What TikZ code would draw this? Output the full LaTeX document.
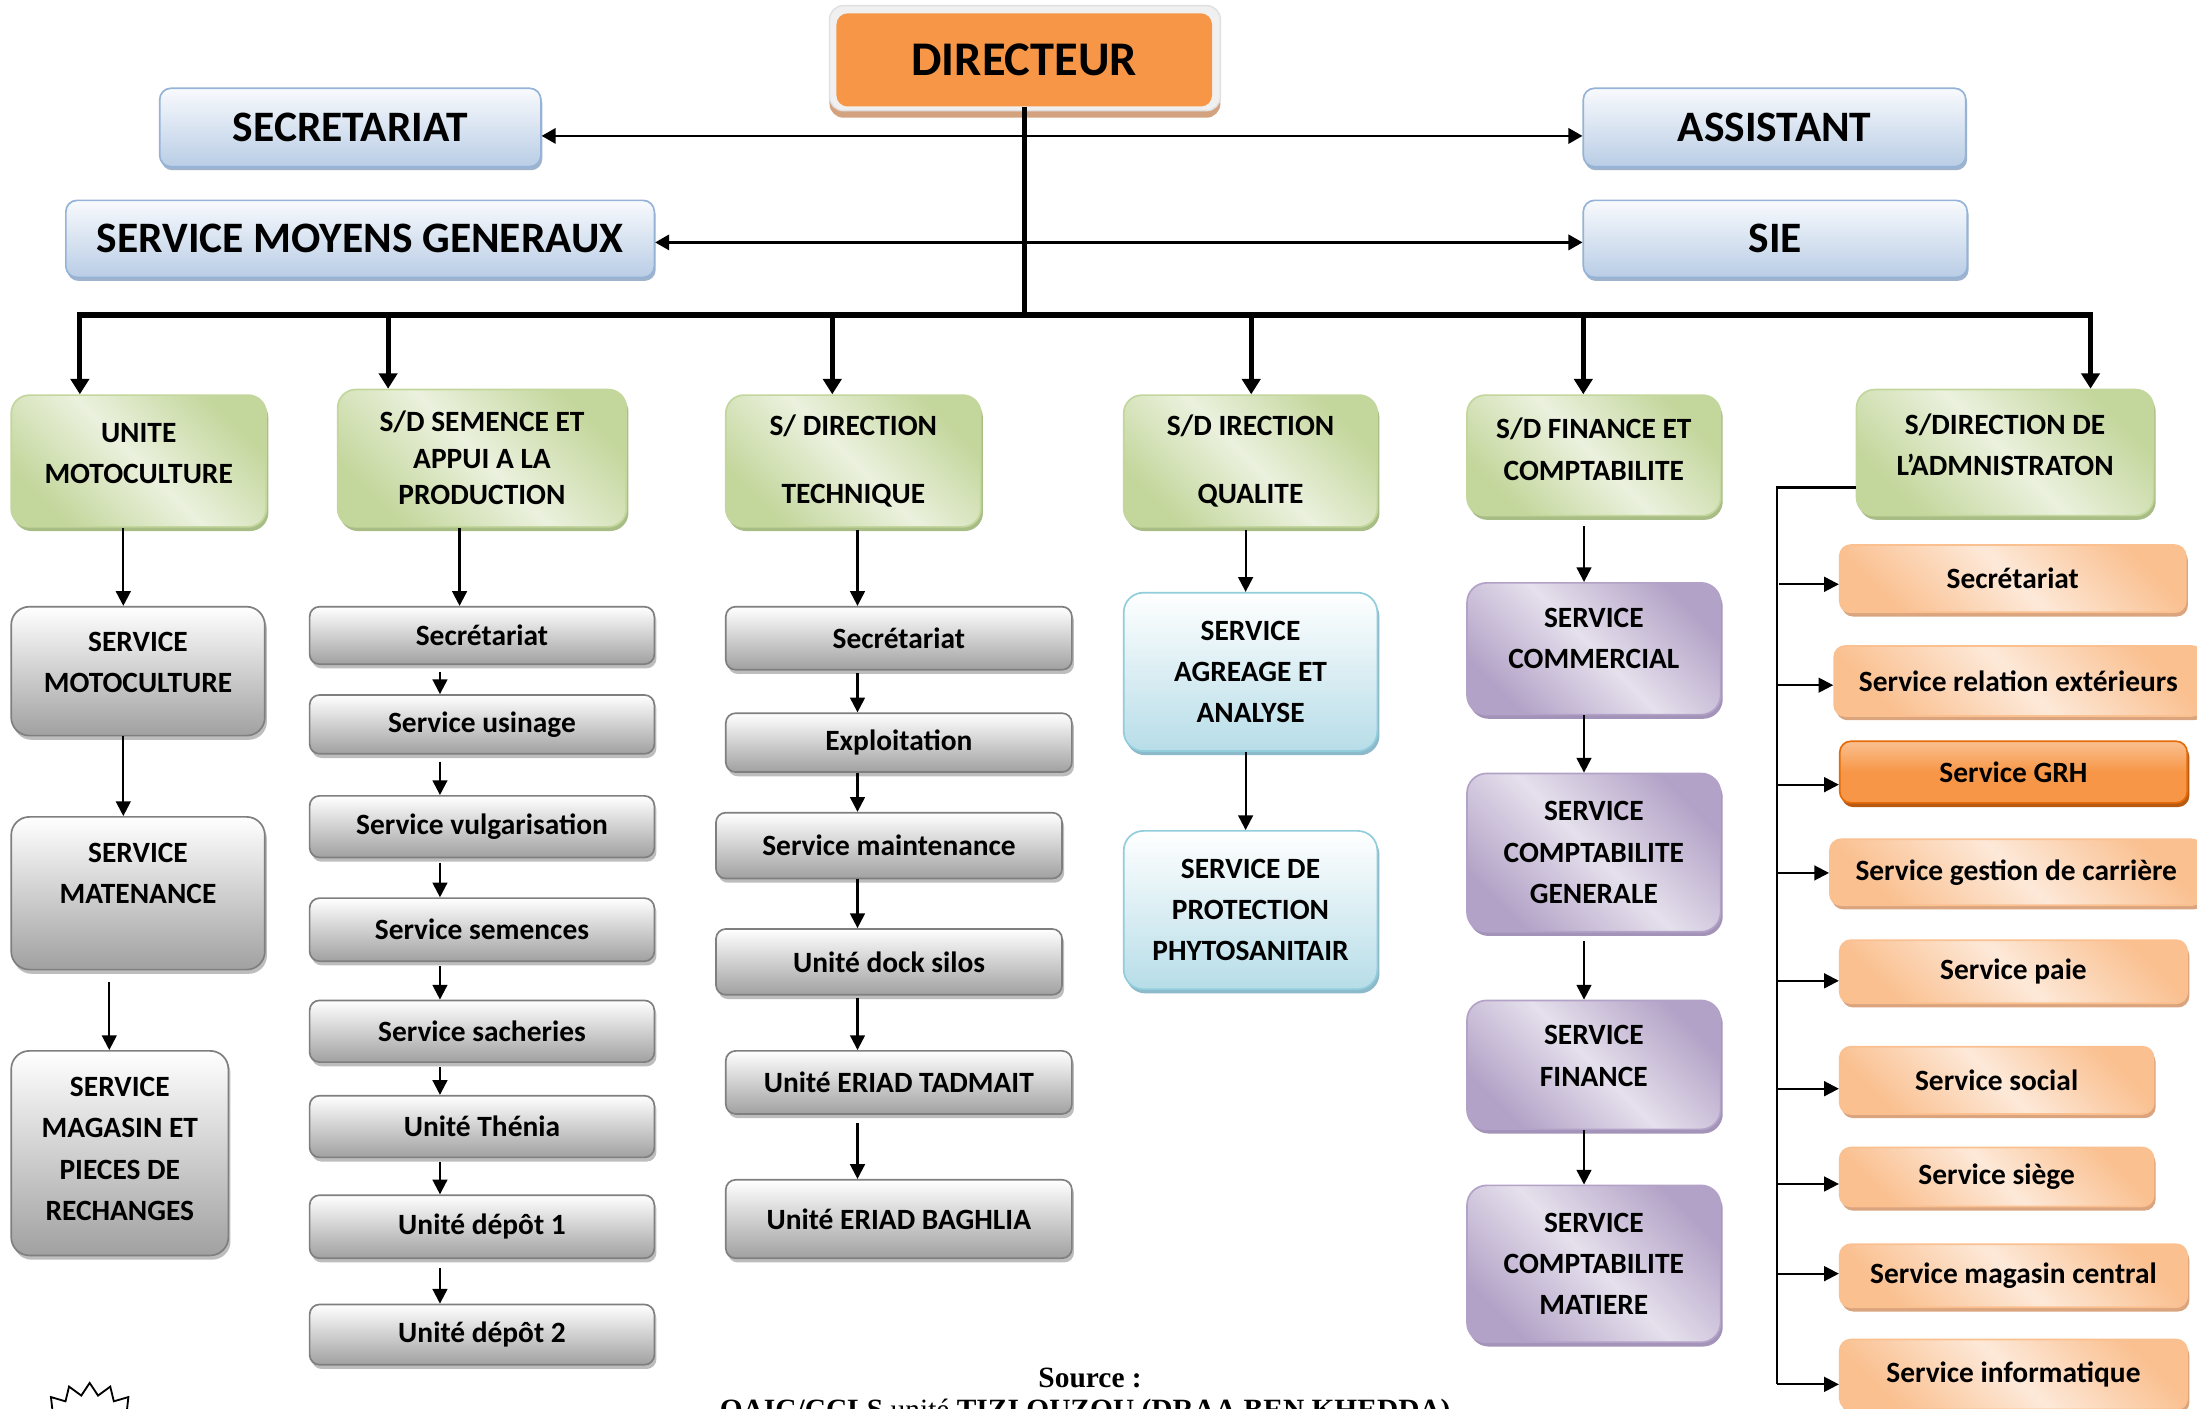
\documentclass[tikz,border=0pt]{standalone}
\usepackage{fontspec}
\setmainfont{Carlito}
\newfontfamily\srcfont{Liberation Serif}
\usetikzlibrary{arrows.meta,shadows}
\definecolor{orng}{HTML}{F79646}
\definecolor{toptop}{HTML}{F8FAFD}
\definecolor{topbot}{HTML}{B9CDE5}
\definecolor{topbd}{HTML}{95B3D7}
\definecolor{topsh}{HTML}{9FB3CC}
\definecolor{grlt}{HTML}{EBF1DE}
\definecolor{grdk}{HTML}{C3D69B}
\definecolor{grbd}{HTML}{C3D69B}
\definecolor{grsh}{HTML}{A8BC86}
\definecolor{gybd}{HTML}{7F7F7F}
\definecolor{gysh}{HTML}{BDBDBD}
\definecolor{blbot}{HTML}{B7DDE8}
\definecolor{blbd}{HTML}{92CDDC}
\definecolor{blsh}{HTML}{8DBACB}
\definecolor{pult}{HTML}{E5E0EC}
\definecolor{pudk}{HTML}{B3A2C7}
\definecolor{push}{HTML}{A393B8}
\definecolor{orlt}{HTML}{FDE9D9}
\definecolor{ordk}{HTML}{FAC090}
\definecolor{orsh}{HTML}{D9A47E}
\definecolor{grhbd}{HTML}{E46C0A}
\definecolor{grhsh}{HTML}{B85A12}
\definecolor{dirsh}{HTML}{D3A27F}
\begin{document}
\begin{tikzpicture}[x=1pt,y=-1pt,
  box/.style={rectangle, align=center, inner sep=2pt, line width=1.2pt,
    font=\bfseries\fontsize{21}{29.5}\selectfont},
  sz/.style 2 args={minimum width=#1pt, minimum height=#2pt},
  lift/.style={text depth=#1},
  topbox/.style={box, rounded corners=8pt, draw=topbd, top color=toptop, bottom color=topbot,
    font=\bfseries\fontsize{31}{35}\selectfont,
    drop shadow={shadow xshift=1pt, shadow yshift=-2.5pt, fill=topsh, opacity=1}},
  greenbox/.style={box, rounded corners=13pt, draw=grbd, top color=grdk, bottom color=grdk,
    middle color=grlt, shading angle=-45,
    drop shadow={shadow xshift=1.5pt, shadow yshift=-3pt, fill=grsh, opacity=1}},
  greybig/.style={box, rounded corners=13pt, draw=gybd, top color=white, bottom color=black!37,
    drop shadow={shadow xshift=1.5pt, shadow yshift=-3pt, fill=gysh, opacity=1}},
  greybox/.style={box, rounded corners=7pt, draw=gybd, top color=white, bottom color=black!37,
    drop shadow={shadow xshift=1.5pt, shadow yshift=-3pt, fill=gysh, opacity=1}},
  bluebox/.style={box, rounded corners=14pt, draw=blbd, top color=white, bottom color=blbot,
    drop shadow={shadow xshift=1.5pt, shadow yshift=-3pt, fill=blsh, opacity=1}},
  purplebox/.style={box, rounded corners=14pt, draw=pudk, top color=pudk, bottom color=pudk,
    middle color=pult, shading angle=-45,
    drop shadow={shadow xshift=1.5pt, shadow yshift=-3pt, fill=push, opacity=1}},
  orbox/.style={box, rounded corners=8pt, draw=ordk, top color=ordk, bottom color=ordk,
    middle color=orlt, shading angle=-45,
    drop shadow={shadow xshift=1.5pt, shadow yshift=-3pt, fill=orsh, opacity=1}},
  grhbox/.style={box, rounded corners=8pt, draw=grhbd, top color=ordk, bottom color=orng,
    middle color=orng,
    drop shadow={shadow xshift=1.5pt, shadow yshift=-3pt, fill=grhsh, opacity=1}},
  conn/.style={line width=1.6pt, -{Triangle[width=10.5pt,length=10.5pt]}},
  both/.style={line width=1.6pt, {Triangle[width=11pt,length=10pt]}-{Triangle[width=11pt,length=10pt]}},
  drop/.style={line width=3.5pt, -{Triangle[width=13pt,length=11pt]}},
  plain/.style={line width=1.6pt}
]
\useasboundingbox (0,0) rectangle (1568,1005);
\fill[white] (0,0) rectangle (1568,1005);
\clip (0,0) rectangle (1568,1005);

% Director
\node[rectangle, rounded corners=10pt, fill=black!6, draw=black!12, line width=1pt, sz={279}{75},
  drop shadow={shadow xshift=0pt, shadow yshift=-5pt, fill=dirsh, opacity=1}] (dirframe) at (731.5,41.5) {};
\node[rectangle, rounded corners=8pt, fill=orng, sz={268}{66.5},
  font=\bfseries\fontsize{34.5}{38}\selectfont] (dir) at (731,42.75) {DIRECTEUR};

% top boxes
\node[topbox, sz={272}{56}] (secr) at (250,91) {SECRETARIAT};
\node[topbox, sz={273}{56}] (assist) at (1266.5,91) {ASSISTANT};
\node[topbox, sz={420}{55}] (smg) at (257,170.5) {SERVICE MOYENS GENERAUX};
\node[topbox, sz={274}{55}] (sie) at (1267,170.5) {SIE};

\draw[both] ([yshift=-6pt]secr.east) -- ([yshift=-6pt]assist.west);
\draw[both] ([yshift=-2.5pt]smg.east) -- ([yshift=-2.5pt]sie.west);

% bus
\coordinate (busL) at (55,225);
\coordinate (busR) at (1494,225);
\draw[line width=3.5pt] (dir.south) -- (dir.south |- busL);
\draw[line width=4.5pt] (busL) -- (busR);

% level 2
\node[greenbox, sz={182}{94}, lift=11pt] (g1) at (99,329) {UNITE\\MOTOCULTURE};
\node[greenbox, sz={206}{98}] (g2) at (344,327) {S/D SEMENCE ET\\[-3.5pt]APPUI A LA\\[-3.5pt]PRODUCTION};
\node[greenbox, sz={182}{94}] (g3) at (609,329) {S/ DIRECTION\\[18.5pt]TECHNIQUE};
\node[greenbox, sz={181}{94}] (g4) at (892.5,329) {S/D IRECTION\\[18.5pt]QUALITE};
\node[greenbox, sz={181}{86}, lift=9pt] (g5) at (1137.5,325) {S/D FINANCE ET\\COMPTABILITE};
\node[greenbox, sz={212}{90}, lift=11pt] (g6) at (1431,323) {S/DIRECTION DE\\L’ADMNISTRATON};

\coordinate (d1) at (57,225);
\coordinate (d2) at (277,225);
\coordinate (d3) at (594,225);
\coordinate (d4) at (893,225);
\coordinate (d5) at (1130,225);
\coordinate (d6) at (1492,225);
\draw[drop] (d1) -- (d1 |- g1.north);
\draw[drop] (d2) -- (d2 |- g2.north);
\draw[drop] (d3) -- (d3 |- g3.north);
\draw[drop] (d4) -- (d4 |- g4.north);
\draw[drop] (d5) -- (d5 |- g5.north);
\draw[drop] (d6) -- (d6 |- g6.north);

% column 1
\node[greybig, sz={181}{92}, lift=13pt] (m1) at (98.5,479) {SERVICE\\MOTOCULTURE};
\node[greybig, sz={181}{109}, lift=28pt] (m2) at (98.5,637.5) {SERVICE\\MATENANCE};
\node[greybig, sz={155}{146}, lift=6pt] (m3) at (85.5,823) {SERVICE\\MAGASIN ET\\PIECES DE\\RECHANGES};
\coordinate (c1) at (88,0);
\coordinate (c1b) at (78,0);
\draw[conn] (g1.south -| c1) -- (m1.north -| c1);
\draw[conn] (m1.south -| c1) -- (m2.north -| c1);
\draw[conn] ([yshift=-8pt]m2.south -| c1b) -- (m3.north -| c1b);

% column 2
\node[greybox, sz={246}{41}] (s1) at (344,453.5) {Secrétariat};
\node[greybox, sz={246}{42}] (s2) at (344,517) {Service usinage};
\node[greybox, sz={246}{44}] (s3) at (344,590) {Service vulgarisation};
\node[greybox, sz={246}{45}] (s4) at (344,663.5) {Service semences};
\node[greybox, sz={246}{44}] (s5) at (344,736) {Service sacheries};
\node[greybox, sz={246}{44}] (s6) at (344,804) {Unité Thénia};
\node[greybox, sz={246}{45}] (s7) at (344,875.5) {Unité dépôt 1};
\node[greybox, sz={246}{43}] (s8) at (344,952.5) {Unité dépôt 2};
\coordinate (c2a) at (328,0);
\coordinate (c2) at (314,0);
\draw[conn] (g2.south -| c2a) -- (s1.north -| c2a);
\draw[conn] ([yshift=-5pt]s1.south -| c2) -- (s2.north -| c2);
\draw[conn] ([yshift=-5pt]s2.south -| c2) -- (s3.north -| c2);
\draw[conn] ([yshift=-3pt]s3.south -| c2) -- (s4.north -| c2);
\draw[conn] ([yshift=-3pt]s4.south -| c2) -- (s5.north -| c2);
\draw[conn] ([yshift=-3pt]s5.south -| c2) -- (s6.north -| c2);
\draw[conn] ([yshift=-3pt]s6.south -| c2) -- (s7.north -| c2);
\draw[conn] ([yshift=-6pt]s7.south -| c2) -- (s8.north -| c2);

% column 3
\node[greybox, sz={247}{45}] (t1) at (641.5,455.5) {Secrétariat};
\node[greybox, sz={247}{42}] (t2) at (641.5,530) {Exploitation};
\node[greybox, sz={247}{47}] (t3) at (634.5,603.5) {Service maintenance};
\node[greybox, sz={247}{47}] (t4) at (634.5,686.5) {Unité dock silos};
\node[greybox, sz={247}{45}] (t5) at (641.5,772.5) {Unité ERIAD TADMAIT};
\node[greybox, sz={247}{56}] (t6) at (641.5,870) {Unité ERIAD BAGHLIA};
\coordinate (c3) at (612,0);
\draw[conn] ([yshift=-2pt]g3.south -| c3) -- (t1.north -| c3);
\draw[conn] ([yshift=-2pt]t1.south -| c3) -- (t2.north -| c3);
\draw[conn] (t2.south -| c3) -- (t3.north -| c3);
\draw[conn] (t3.south -| c3) -- (t4.north -| c3);
\draw[conn] ([yshift=-2pt]t4.south -| c3) -- (t5.north -| c3);
\draw[conn] ([yshift=-6pt]t5.south -| c3) -- (t6.north -| c3);

% column 4
\node[bluebox, sz={181}{113}] (q1) at (892.5,479.5) {SERVICE\\AGREAGE ET\\ANALYSE};
\node[bluebox, sz={181}{113}] (q2) at (892.5,649.5) {SERVICE DE\\PROTECTION\\PHYTOSANITAIR};
\coordinate (c4) at (889,0);
\draw[conn] ([yshift=-2pt]g4.south -| c4) -- (q1.north -| c4);
\draw[conn] (q1.south -| c4) -- (q2.north -| c4);

% column 5
\node[purplebox, sz={181}{94}, lift=15pt] (p1) at (1137.5,463) {SERVICE\\COMMERCIAL};
\node[purplebox, sz={181}{113}] (p2) at (1137.5,608.5) {SERVICE\\COMPTABILITE\\GENERALE};
\node[purplebox, sz={181}{92}, lift=13pt] (p3) at (1137.5,760) {SERVICE\\FINANCE};
\node[purplebox, sz={181}{112}] (p4) at (1137.5,902) {SERVICE\\COMPTABILITE\\MATIERE};
\coordinate (c5) at (1130.5,0);
\draw[conn] ([yshift=-7pt]g5.south -| c5) -- (p1.north -| c5);
\draw[conn] (p1.south -| c5) -- (p2.north -| c5);
\draw[conn] ([yshift=-6pt]p2.south -| c5) -- (p3.north -| c5);
\draw[conn] (p3.south -| c5) -- (p4.north -| c5);

% column 6
\node[orbox, sz={247}{48}] (a1) at (1436.5,413) {Secrétariat};
\node[orbox, sz={263}{50}] (a2) at (1440.5,486) {Service relation extérieurs};
\node[grhbox, sz={248}{44}] (a3) at (1437,551) {Service GRH};
\node[orbox, sz={266}{47}] (a4) at (1439,622.5) {Service gestion de carrière};
\node[orbox, sz={248}{45}] (a5) at (1437,693.5) {Service paie};
\node[orbox, sz={224}{48}] (a6) at (1425,771) {Service social};
\node[orbox, sz={224}{42}] (a7) at (1425,840) {Service siège};
\node[orbox, sz={248}{45}] (a8) at (1437,910.5) {Service magasin central};
\node[orbox, sz={248}{50}] (a9) at (1437,981) {Service informatique};

\coordinate (bk0) at (1268,348);
\coordinate (bk1) at (1270,417);
\coordinate (bk2) at (1268,489);
\coordinate (bk3) at (1268,560);
\coordinate (bk4) at (1268,623);
\coordinate (bk5) at (1268,700);
\coordinate (bk6) at (1268,777);
\coordinate (bk7) at (1268,845);
\coordinate (bk8) at (1268,909);
\coordinate (bk9) at (1268,988);
\draw[plain] (g6.west |- bk0) -- (bk0) -- (bk9);
\draw[conn] (bk1) -- (bk1 -| a1.west);
\draw[conn] (bk2) -- (bk2 -| a2.west);
\draw[conn] (bk3) -- (bk3 -| a3.west);
\draw[conn] (bk4) -- (bk4 -| a4.west);
\draw[conn] (bk5) -- (bk5 -| a5.west);
\draw[conn] (bk6) -- (bk6 -| a6.west);
\draw[conn] (bk7) -- (bk7 -| a7.west);
\draw[conn] (bk8) -- (bk8 -| a8.west);
\draw[conn] (bk9) -- (bk9 -| a9.west);

% source
\node[anchor=base, inner sep=0pt, font=\srcfont\bfseries\fontsize{21}{24}\selectfont] (src) at (778,990) {Source :};
\node[anchor=base, inner sep=0pt, font=\srcfont\bfseries\fontsize{21}{24}\selectfont] (src2) at (774.5,1013) {OAIC/CCLS {\mdseries unité} TIZI OUZOU (DRAA BEN KHEDDA)};

% starburst
\draw[line width=1.3pt, line join=miter] (64,987)
  \foreach \k in {1,...,35} { -- ({64+(38.75+4.25*cos(\k*180))*sin(\k*10)}, {1030-(38.75+4.25*cos(\k*180))*cos(\k*10)}) } -- cycle;
\end{tikzpicture}
\end{document}
